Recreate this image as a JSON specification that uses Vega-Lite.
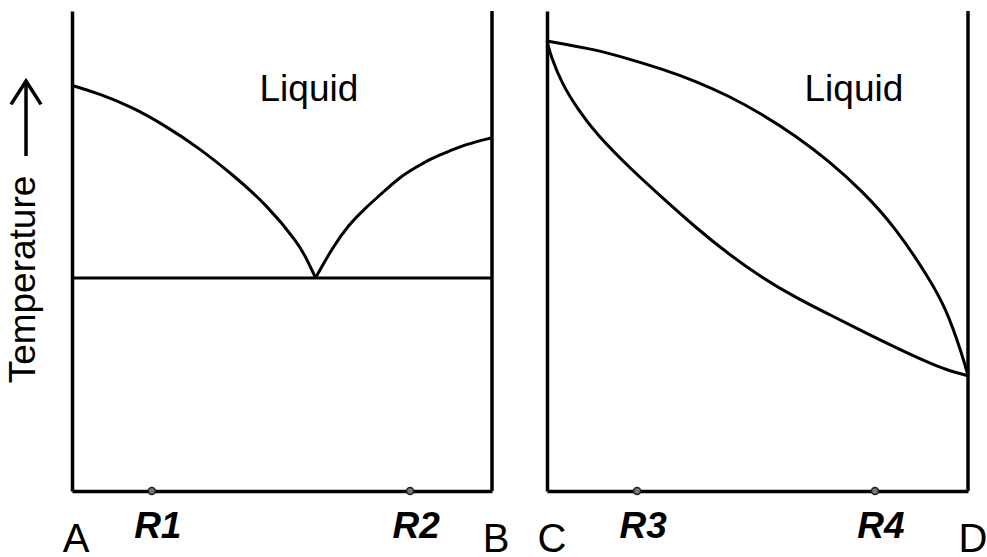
{
  "$schema": "https://vega.github.io/schema/vega-lite/v6.json",
  "background": "white",
  "padding": {"left": 4, "top": 9, "right": 0, "bottom": 0},
  "bounds": "flush",
  "spacing": 55,
  "config": {
    "view": {"stroke": null},
    "font": "Liberation Sans",
    "axis": {"grid": false, "ticks": false, "labels": false, "domainColor": "black", "domainWidth": 3.5}
  },
  "hconcat": [
    {
      "width": 420,
      "height": 480,
      "layer": [
        {
          "data": {"values": [
            {"curve": "liquidus A", "composition": 0, "temperature": 84.5},
            {"curve": "liquidus A", "composition": 6.4, "temperature": 82.8},
            {"curve": "liquidus A", "composition": 14.3, "temperature": 80.0},
            {"curve": "liquidus A", "composition": 22.4, "temperature": 76.0},
            {"curve": "liquidus A", "composition": 30.2, "temperature": 71.5},
            {"curve": "liquidus A", "composition": 38.1, "temperature": 66.0},
            {"curve": "liquidus A", "composition": 46.2, "temperature": 59.8},
            {"curve": "liquidus A", "composition": 54.0, "temperature": 51.5},
            {"curve": "liquidus A", "composition": 56.0, "temperature": 48.1},
            {"curve": "liquidus A", "composition": 58.0, "temperature": 44.4},
            {"curve": "liquidus B", "composition": 58.0, "temperature": 44.4},
            {"curve": "liquidus B", "composition": 62.0, "temperature": 50.7},
            {"curve": "liquidus B", "composition": 66.0, "temperature": 55.6},
            {"curve": "liquidus B", "composition": 69.9, "temperature": 59.0},
            {"curve": "liquidus B", "composition": 73.9, "temperature": 62.1},
            {"curve": "liquidus B", "composition": 77.9, "temperature": 65.3},
            {"curve": "liquidus B", "composition": 81.8, "temperature": 67.4},
            {"curve": "liquidus B", "composition": 85.8, "temperature": 69.4},
            {"curve": "liquidus B", "composition": 89.8, "temperature": 70.8},
            {"curve": "liquidus B", "composition": 93.7, "temperature": 72.2},
            {"curve": "liquidus B", "composition": 100, "temperature": 73.6},
            {"curve": "eutectic", "composition": 0, "temperature": 44.4},
            {"curve": "eutectic", "composition": 100, "temperature": 44.4}
          ]},
          "mark": {"type": "line", "color": "black", "strokeWidth": 3, "interpolate": "basis"},
          "encoding": {
            "x": {"field": "composition", "type": "quantitative", "scale": {"domain": [0, 100]}, "axis": {"title": null}},
            "y": {"field": "temperature", "type": "quantitative", "scale": {"domain": [0, 100]},
                  "axis": {"title": "Temperature", "titleFontSize": 37, "titleFontWeight": "normal", "titleColor": "black", "titlePadding": 30, "titleFont": "Liberation Sans", "titleY": 268}},
            "detail": {"field": "curve"}
          }
        },
        {
          "data": {"values": [{"label": "Temperature arrow"}]},
          "layer": [
            {
              "mark": {"type": "rule", "color": "black", "strokeWidth": 3.5},
              "encoding": {"x": {"datum": -10.95}, "y": {"datum": 85.0}, "y2": {"datum": 69.8}}
            },
            {
              "mark": {"type": "point", "shape": "M-1,1.55L0,0L1,1.55", "size": 900, "filled": false, "stroke": "black", "strokeWidth": 3.5, "opacity": 1, "strokeJoin": "miter"},
              "encoding": {"x": {"datum": -10.95}, "y": {"datum": 85.4}}
            }
          ]
        },
        {
          "data": {"values": [{"label": "B boundary"}]},
          "mark": {"type": "rule", "color": "black", "strokeWidth": 3.5},
          "encoding": {"x": {"datum": 100}, "y": {"datum": 0}, "y2": {"datum": 100}}
        },
        {
          "data": {"values": [
            {"label": "R1", "composition": 19.0},
            {"label": "R2", "composition": 80.5}
          ]},
          "layer": [
            {
              "mark": {"type": "point", "filled": true, "shape": "circle", "size": 50, "fill": "#777777", "stroke": "#222222", "strokeWidth": 1.5, "opacity": 1},
              "encoding": {"x": {"field": "composition", "type": "quantitative"}, "y": {"datum": 0}}
            },
            {
              "mark": {"type": "text", "fontSize": 37, "fontWeight": "bold", "fontStyle": "italic", "dy": 47, "dx": 6, "baseline": "alphabetic", "color": "black"},
              "encoding": {"x": {"field": "composition", "type": "quantitative"}, "y": {"datum": 0}, "text": {"field": "label"}}
            }
          ]
        },
        {
          "data": {"values": [
            {"label": "A", "composition": 0},
            {"label": "B", "composition": 100}
          ]},
          "mark": {"type": "text", "fontSize": 40, "dy": 61, "dx": 4, "baseline": "alphabetic", "color": "black"},
          "encoding": {"x": {"field": "composition", "type": "quantitative"}, "y": {"datum": 0}, "text": {"field": "label"}}
        },
        {
          "data": {"values": [{"label": "Liquid"}]},
          "mark": {"type": "text", "fontSize": 37, "baseline": "alphabetic", "color": "black"},
          "encoding": {"x": {"datum": 56.4}, "y": {"datum": 81.3}, "text": {"field": "label"}}
        }
      ]
    },
    {
      "width": 421,
      "height": 480,
      "layer": [
        {
          "data": {"values": [
            {"curve": "liquidus", "composition": 0, "temperature": 93.75},
            {"curve": "liquidus", "composition": 11.5, "temperature": 92.0},
            {"curve": "liquidus", "composition": 19.5, "temperature": 90.0},
            {"curve": "liquidus", "composition": 27.4, "temperature": 87.9},
            {"curve": "liquidus", "composition": 35.3, "temperature": 85.4},
            {"curve": "liquidus", "composition": 43.2, "temperature": 82.3},
            {"curve": "liquidus", "composition": 51.1, "temperature": 78.5},
            {"curve": "liquidus", "composition": 59.1, "temperature": 74.0},
            {"curve": "liquidus", "composition": 67.0, "temperature": 68.75},
            {"curve": "liquidus", "composition": 74.9, "temperature": 62.5},
            {"curve": "liquidus", "composition": 82.8, "temperature": 54.9},
            {"curve": "liquidus", "composition": 90.7, "temperature": 44.4},
            {"curve": "liquidus", "composition": 94.7, "temperature": 38.2},
            {"curve": "liquidus", "composition": 98.6, "temperature": 28.5},
            {"curve": "liquidus", "composition": 100, "temperature": 24.0},
            {"curve": "solidus", "composition": 0, "temperature": 93.75},
            {"curve": "solidus", "composition": 0.9, "temperature": 90.6},
            {"curve": "solidus", "composition": 3.6, "temperature": 84.7},
            {"curve": "solidus", "composition": 7.6, "temperature": 79.2},
            {"curve": "solidus", "composition": 11.5, "temperature": 74.6},
            {"curve": "solidus", "composition": 19.5, "temperature": 67.4},
            {"curve": "solidus", "composition": 27.4, "temperature": 61.1},
            {"curve": "solidus", "composition": 35.3, "temperature": 54.9},
            {"curve": "solidus", "composition": 43.2, "temperature": 49.3},
            {"curve": "solidus", "composition": 51.1, "temperature": 44.4},
            {"curve": "solidus", "composition": 59.1, "temperature": 40.3},
            {"curve": "solidus", "composition": 67.0, "temperature": 36.8},
            {"curve": "solidus", "composition": 74.9, "temperature": 33.3},
            {"curve": "solidus", "composition": 82.8, "temperature": 29.9},
            {"curve": "solidus", "composition": 90.7, "temperature": 26.7},
            {"curve": "solidus", "composition": 94.7, "temperature": 25.3},
            {"curve": "solidus", "composition": 100, "temperature": 24.0}
          ]},
          "mark": {"type": "line", "color": "black", "strokeWidth": 3, "interpolate": "basis"},
          "encoding": {
            "x": {"field": "composition", "type": "quantitative", "scale": {"domain": [0, 100]}, "axis": {"title": null}},
            "y": {"field": "temperature", "type": "quantitative", "scale": {"domain": [0, 100]}, "axis": {"title": null}},
            "detail": {"field": "curve"}
          }
        },
        {
          "data": {"values": [{"label": "D boundary"}]},
          "mark": {"type": "rule", "color": "black", "strokeWidth": 3.5},
          "encoding": {"x": {"datum": 100}, "y": {"datum": 0}, "y2": {"datum": 100}}
        },
        {
          "data": {"values": [
            {"label": "R3", "composition": 21.4},
            {"label": "R4", "composition": 77.9}
          ]},
          "layer": [
            {
              "mark": {"type": "point", "filled": true, "shape": "circle", "size": 50, "fill": "#777777", "stroke": "#222222", "strokeWidth": 1.5, "opacity": 1},
              "encoding": {"x": {"field": "composition", "type": "quantitative"}, "y": {"datum": 0}}
            },
            {
              "mark": {"type": "text", "fontSize": 37, "fontWeight": "bold", "fontStyle": "italic", "dy": 47, "dx": 6, "baseline": "alphabetic", "color": "black"},
              "encoding": {"x": {"field": "composition", "type": "quantitative"}, "y": {"datum": 0}, "text": {"field": "label"}}
            }
          ]
        },
        {
          "data": {"values": [
            {"label": "C", "composition": 0},
            {"label": "D", "composition": 100}
          ]},
          "mark": {"type": "text", "fontSize": 40, "dy": 61, "dx": 5, "baseline": "alphabetic", "color": "black"},
          "encoding": {"x": {"field": "composition", "type": "quantitative"}, "y": {"datum": 0}, "text": {"field": "label"}}
        },
        {
          "data": {"values": [{"label": "Liquid"}]},
          "mark": {"type": "text", "fontSize": 37, "baseline": "alphabetic", "color": "black"},
          "encoding": {"x": {"datum": 72.9}, "y": {"datum": 81.3}, "text": {"field": "label"}}
        }
      ]
    }
  ]
}
